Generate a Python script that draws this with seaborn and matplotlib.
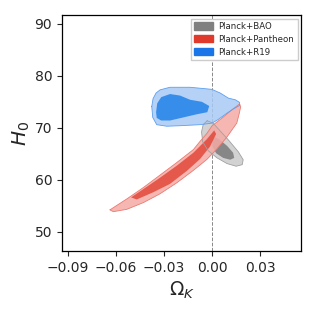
import numpy as np
import pandas as pd
import seaborn as sns
import matplotlib
matplotlib.use("Agg")
import matplotlib.pyplot as plt
from matplotlib.patches import Patch

# contour outlines (Omega_K, H0)
bao_outer_ok = [-0.0031, 0.0006, 0.0050, 0.0106, 0.0163, 0.0194, 0.0188, 0.0150, 0.0094, 0.0031, -0.0025, -0.0059, -0.0066, -0.0056]
bao_outer_h0 = [71.35, 70.9, 69.4, 67.5, 65.4, 63.85, 62.9, 62.6, 63.1, 64.2, 65.6, 67.3, 69.2, 70.6]
bao_inner_ok = [0.0006, 0.0044, 0.0094, 0.0131, 0.0138, 0.0113, 0.0069, 0.0025, 0.0003, 0.0]
bao_inner_h0 = [68.3, 67.8, 66.5, 65.2, 64.2, 63.85, 64.2, 65.1, 66.35, 67.5]

pan_outer_ok = [-0.0638, -0.0533, -0.0429, -0.0325, -0.0221, -0.0117, -0.0075, -0.0033, 0.0, 0.0063, 0.0125, 0.0172,
                0.0178, 0.0169, 0.0154, 0.0092, 0.0029, -0.0033, -0.0117, -0.0221, -0.0325, -0.0429, -0.0533, -0.0617]
pan_outer_h0 = [54.2, 56.3, 58.5, 60.9, 63.3, 65.8, 67.4, 68.9, 70.4, 71.9, 73.5, 74.6,
                74.0, 72.7, 70.9, 68.2, 65.9, 63.9, 61.8, 59.4, 57.3, 55.6, 54.3, 53.85]
pan_inner_ok = [-0.0506, -0.0429, -0.0325, -0.0221, -0.0117, -0.0033, 0.0013,
                0.0025, -0.0013, -0.0075, -0.0158, -0.0263, -0.0367, -0.0471]
pan_inner_h0 = [56.6, 58.2, 60.4, 62.7, 65.2, 67.8, 69.5,
                68.8, 66.4, 64.0, 61.7, 59.2, 57.6, 56.2]

r19_outer_ok = [-0.0377, -0.0369, -0.0350, -0.0325, -0.0263, -0.0138, -0.0002, 0.0050, 0.0102, 0.0144, 0.0171,
                0.0172, 0.0131, 0.0092, 0.0038, 0.0, -0.0075, -0.0200, -0.0283, -0.0346, -0.0371]
r19_outer_h0 = [74.1, 75.6, 76.7, 77.3, 77.8, 77.8, 77.4, 76.7, 75.7, 75.4, 74.9,
                74.3, 73.6, 72.8, 71.6, 70.9, 70.6, 70.4, 70.3, 70.6, 72.0]
r19_inner_ok = [-0.0350, -0.0343, -0.0318, -0.0263, -0.0200, -0.0138, -0.0064, -0.0018,
                -0.0030, -0.0096, -0.0179, -0.0263, -0.0318, -0.0346]
r19_inner_h0 = [73.0, 74.7, 75.9, 76.5, 76.2, 75.4, 75.0, 74.2,
                73.0, 72.6, 72.0, 71.4, 71.4, 71.9]

labels = ["Planck+BAO", "Planck+Pantheon", "Planck+R19"]

sns.set_style("ticks")
fig = plt.figure(figsize=(3.16, 3.14), dpi=100)
ax = fig.add_axes([0.196, 0.201, 0.757, 0.751])

sets = [
    (bao_outer_ok, bao_outer_h0, bao_inner_ok, bao_inner_h0, "#cbcbcb", "#7a7a7a", "#a0a0a0"),
    (pan_outer_ok, pan_outer_h0, pan_inner_ok, pan_inner_h0, "#f5aba5", "#e2473a", "#eb7a70"),
    (r19_outer_ok, r19_outer_h0, r19_inner_ok, r19_inner_h0, "#a8caf5", "#2182e8", "#5c9ff0"),
]
for o_x, o_y, i_x, i_y, light, dark, edge in sets:
    ax.fill(o_x, o_y, color=light, alpha=0.85, lw=0, zorder=2)
    ax.fill(i_x, i_y, color=dark, alpha=0.85, lw=0, zorder=2)
    outline = pd.DataFrame({"ok": o_x + o_x[:1], "h0": o_y + o_y[:1]})
    sns.lineplot(data=outline, x="ok", y="h0", sort=False, estimator=None,
                 color=edge, lw=0.6, ax=ax, zorder=3)

ax.axvline(0.0, color="#888888", ls="--", lw=0.7, zorder=1)

ax.set_xlim(-0.0938, 0.0556)
ax.set_ylim(46.3, 91.7)
ax.set_xticks([-0.09, -0.06, -0.03, 0.0, 0.03])
ax.set_xticklabels(["\u22120.09", "\u22120.06", "\u22120.03", "0.00", "0.03"])
ax.set_yticks([50, 60, 70, 80, 90])
ax.tick_params(labelsize=10, length=3.5, width=0.8)
ax.set_xlabel(r"$\Omega_K$", fontsize=13.5, labelpad=4)
ax.set_ylabel(r"$H_0$", fontsize=14.5, labelpad=2)
for s in ax.spines.values():
    s.set_linewidth(0.9)
    s.set_color("black")

handles = [Patch(color="#808080"), Patch(color="#e03a2c"), Patch(color="#1a76e8")]
ax.legend(handles, labels, loc="upper right", fontsize=6.2, frameon=True,
          handlelength=2.2, handleheight=0.9, borderpad=0.4, labelspacing=0.45,
          handletextpad=0.6, borderaxespad=0.4,
          fancybox=False, edgecolor="#cccccc", framealpha=1)

fig.savefig("out.png", dpi=100)
